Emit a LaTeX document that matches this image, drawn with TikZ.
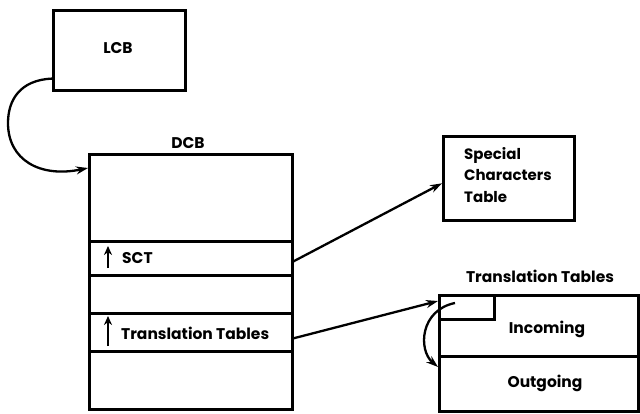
\documentclass[tikz,border=0pt]{standalone}
\usepackage{fontspec}
\setmainfont{Poppins}
\usetikzlibrary{arrows.meta,calc}
\begin{document}
\begin{tikzpicture}[x=1pt,y=-1pt,
  box/.style={draw,line width=2.6pt,inner sep=0pt,anchor=north west},
  lbl/.style={font=\fontsize{15.5}{21.5}\selectfont\bfseries,inner sep=0pt},
  link/.style={line width=2.3pt,-{Stealth[length=12pt,width=8pt]}},
  ptr/.style={line width=2.6pt,-{Stealth[length=9pt,width=8pt]}}]
\useasboundingbox (0,0) rectangle (640,413);
% LCB
\node[box,minimum width=132pt,minimum height=80pt] (lcb) at (52,9) {};
\node[lbl] (lcbt) at (118,48) {LCB};
% DCB and its rows
\node[lbl,anchor=base] (dcbt) at (188,148) {DCB};
\node[box,minimum width=203pt,minimum height=87pt] (d0) at (88,153) {};
\node[box,minimum width=203pt,minimum height=34pt] (sct) at (88,240) {};
\node[box,minimum width=203pt,minimum height=38pt] (d2) at (88,274) {};
\node[box,minimum width=203pt,minimum height=38pt] (tt) at (88,312) {};
\node[box,minimum width=203pt,minimum height=58pt] (d4) at (88,350) {};
\node[lbl,anchor=west] (sctt) at (122,258) {SCT};
\node[lbl,anchor=west] (ttt) at (121,333) {Translation Tables};
\coordinate (a1s) at (108,268); \coordinate (a1e) at (108,246);
\coordinate (a2s) at (108,346); \coordinate (a2e) at (108,316);
\draw[ptr] (a1s) -- (a1e);
\draw[ptr] (a2s) -- (a2e);
% Special Characters Table
\node[box,minimum width=131pt,minimum height=84pt] (spc) at (442,135) {};
\node[lbl,font=\fontsize{15}{21.5}\selectfont\bfseries,anchor=north west,align=left] (spct) at (464,147)
  {Special\\Characters\\Table};
% Translation Tables
\node[lbl] (trt) at (540,276) {Translation Tables};
\node[box,minimum width=199pt,minimum height=61pt] (inc) at (438,294) {};
\node[box,minimum width=199pt,minimum height=55pt] (out) at (438,355) {};
\node[box,minimum width=55pt,minimum height=24pt] (corner) at (438,294) {};
\node[lbl] (inct) at (547,329) {Incoming};
\node[lbl] (outt) at (545,383) {Outgoing};
% connectors
\coordinate (lcbout) at ($(lcb.south west)+(0,-13)$);
\coordinate (dcbin) at ($(d0.north west)+(0,15)$);
\draw[link] (lcbout) .. controls (20,80) and (8,100) .. (8,123)
  .. controls (8,160) and (40,178) .. (dcbin);
\coordinate (sctout) at ($(sct.east)+(0,3)$);
\coordinate (spcin) at ($(spc.west)+(0,5)$);
\draw[link] (sctout) -- (spcin);
\coordinate (ttout) at ($(tt.east)+(0,6)$);
\coordinate (inin) at ($(inc.north west)+(0,7)$);
\draw[link] (ttout) -- (inin);
\coordinate (cs) at (455,303);
\coordinate (oute) at ($(out.north west)+(0,12)$);
\draw[link] (cs) .. controls (420,310) and (418,350) .. (oute);
\end{tikzpicture}
\end{document}
